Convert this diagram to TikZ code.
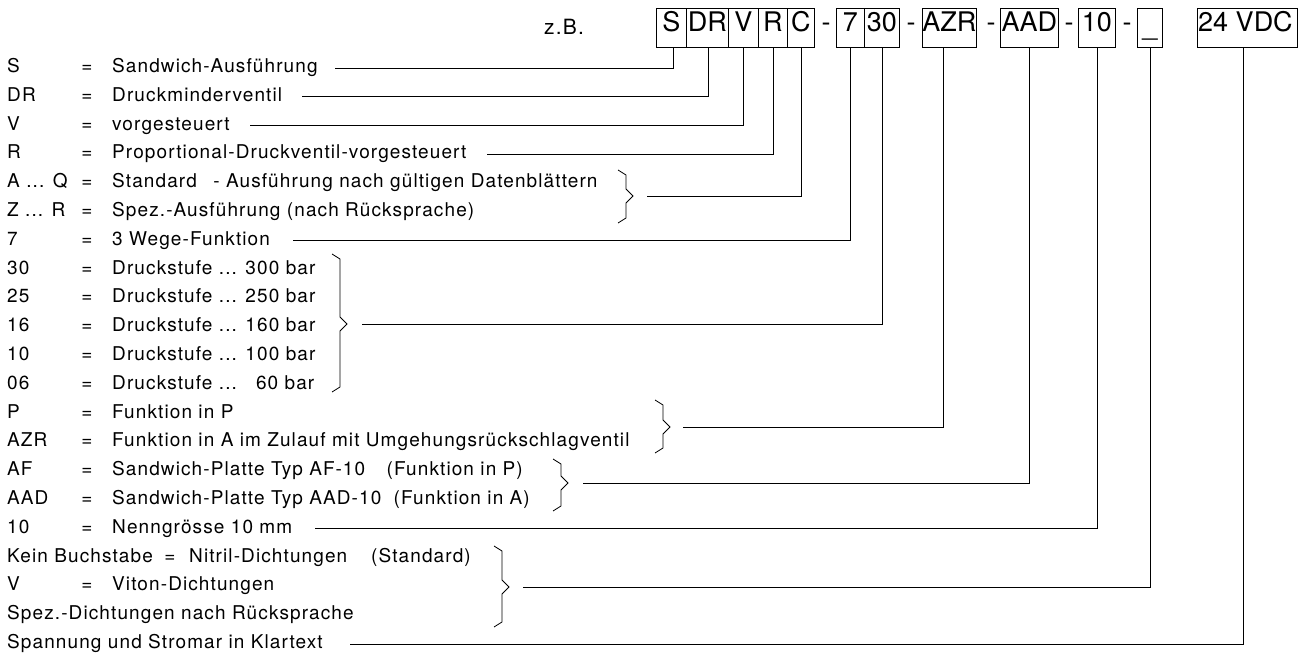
\documentclass[tikz,border=0pt]{standalone}
\usepackage{fontspec}
\setmainfont{TeX Gyre Heros}[LetterSpace=5.8]
\newfontfamily\boxfont{TeX Gyre Heros}
\usetikzlibrary{calc}
\newcommand\mybrace[4]{\draw[brc] (#1,#2) -- (#1+8,#2+5) -- (#1+8,#3-7) -- (#1+15,#3) -- (#1+8,#3+7) -- (#1+8,#4-5) -- (#1,#4);}
\begin{document}
\begin{tikzpicture}[x=1pt,y=-1pt,
  txt/.style={anchor=base west,inner sep=0pt,font=\fontsize{19}{22}\selectfont},
  eq/.style={anchor=base,inner sep=0pt,font=\fontsize{19}{22}\selectfont},
  codebox/.style={draw,line width=0.9pt,minimum height=39pt,inner sep=0pt,anchor=north west},
  btxt/.style={anchor=base,inner sep=0pt,font=\boxfont\fontsize{27}{30}\selectfont},
  ln/.style={line width=0.8pt},
  brc/.style={line width=0.8pt}
]
\useasboundingbox (0,0) rectangle (1298,655);
% ---------- code boxes ----------
\node[anchor=base,inner sep=0pt,font=\fontsize{21}{24}\selectfont] (zb) at (564,35) {z.B.};
\node[codebox,minimum width=30pt] (bS) at (656,8) {};
\node[codebox,minimum width=42pt] (bDR) at (686,8) {};
\node[codebox,minimum width=30pt] (bV) at (728,8) {};
\node[codebox,minimum width=29pt] (bR) at (758,8) {};
\node[codebox,minimum width=27pt] (bC) at (787,8) {};
\node[codebox,minimum width=28pt] (b7) at (836,8) {};
\node[codebox,minimum width=35pt] (b30) at (864,8) {};
\node[codebox,minimum width=54pt] (bAZR) at (922,8) {};
\node[codebox,minimum width=58pt] (bAAD) at (1000,8) {};
\node[codebox,minimum width=37pt] (b10) at (1078,8) {};
\node[codebox,minimum width=25pt] (bU) at (1137,8) {};
\node[codebox,minimum width=100pt] (bVDC) at (1197,8) {};
\node[btxt] (tS) at (bS.center |- 0,32) {S};
\node[btxt] (tDR) at (bDR.center |- 0,32) {DR};
\node[btxt] (tV) at (bV.center |- 0,32) {V};
\node[btxt] (tR) at (bR.center |- 0,32) {R};
\node[btxt] (tC) at (bC.center |- 0,32) {C};
\node[btxt] (t7) at (b7.center |- 0,32) {7};
\node[btxt] (t30) at (b30.center |- 0,32) {30};
\node[btxt] (tAZR) at (bAZR.center |- 0,32) {AZR};
\node[btxt] (tAAD) at (bAAD.center |- 0,32) {AAD};
\node[btxt] (t10) at (b10.center |- 0,32) {10};
\node[btxt] (tU) at (bU.center |- 0,36) {\_};
\node[btxt,anchor=base west] (tVDC) at (1198,32) {24 VDC};
\node[btxt] (m1) at (826,32) {-};
\node[btxt] (m2) at (911,32) {-};
\node[btxt] (m3) at (991,32) {-};
\node[btxt] (m4) at (1069,32) {-};
\node[btxt] (m5) at (1127,32) {-};
% ---------- legend rows ----------
\node[txt] (c0) at (7,72.5) {S};
\node[eq] (q0) at (87,72.5) {=};
\node[txt] (d0) at (112,72.5) {Sandwich-Ausführung};
\node[txt] (c1) at (7,101.3) {DR};
\node[eq] (q1) at (87,101.3) {=};
\node[txt] (d1) at (112,101.3) {Druckminderventil};
\node[txt] (c2) at (7,130.1) {V};
\node[eq] (q2) at (87,130.1) {=};
\node[txt] (d2) at (112,130.1) {vorgesteuert};
\node[txt] (c3) at (7,158.9) {R};
\node[eq] (q3) at (87,158.9) {=};
\node[txt] (d3) at (112,158.9) {Proportional-Druckventil-vorgesteuert};
\node[txt] (c4) at (7,187.7) {A ... Q};
\node[eq] (q4) at (87,187.7) {=};
\node[txt] (d4) at (112,187.7) {Standard\hspace{10pt} - Ausführung nach gültigen Datenblättern};
\node[txt] (c5) at (7,216.5) {Z ... R};
\node[eq] (q5) at (87,216.5) {=};
\node[txt] (d5) at (112,216.5) {Spez.-Ausführung (nach Rücksprache)};
\node[txt] (c6) at (7,245.3) {7};
\node[eq] (q6) at (87,245.3) {=};
\node[txt] (d6) at (112,245.3) {3 Wege-Funktion};
\node[txt] (c7) at (7,274.1) {30};
\node[eq] (q7) at (87,274.1) {=};
\node[txt] (d7) at (112,274.1) {Druckstufe ... 300 bar};
\node[txt] (c8) at (7,302.9) {25};
\node[eq] (q8) at (87,302.9) {=};
\node[txt] (d8) at (112,302.9) {Druckstufe ... 250 bar};
\node[txt] (c9) at (7,331.7) {16};
\node[eq] (q9) at (87,331.7) {=};
\node[txt] (d9) at (112,331.7) {Druckstufe ... 160 bar};
\node[txt] (c10) at (7,360.5) {10};
\node[eq] (q10) at (87,360.5) {=};
\node[txt] (d10) at (112,360.5) {Druckstufe ... 100 bar};
\node[txt] (c11) at (7,389.3) {06};
\node[eq] (q11) at (87,389.3) {=};
\node[txt] (d11) at (112,389.3) {Druckstufe ... \phantom{0}60 bar};
\node[txt] (c12) at (7,418.1) {P};
\node[eq] (q12) at (87,418.1) {=};
\node[txt] (d12) at (112,418.1) {Funktion in P};
\node[txt] (c13) at (7,446.9) {AZR};
\node[eq] (q13) at (87,446.9) {=};
\node[txt] (d13) at (112,446.9) {Funktion in A im Zulauf mit Umgehungsrückschlagventil};
\node[txt] (c14) at (7,475.7) {AF};
\node[eq] (q14) at (87,475.7) {=};
\node[txt] (d14) at (112,475.7) {Sandwich-Platte Typ AF-10};
\node[txt,anchor=base east] (p14) at (523,475.7) {(Funktion in P)};
\node[txt] (c15) at (7,504.5) {AAD};
\node[eq] (q15) at (87,504.5) {=};
\node[txt] (d15) at (112,504.5) {Sandwich-Platte Typ AAD-10};
\node[txt,anchor=base east] (p15) at (530,504.5) {(Funktion in A)};
\node[txt] (c16) at (7,533.3) {10};
\node[eq] (q16) at (87,533.3) {=};
\node[txt] (d16) at (112,533.3) {Nenngrösse 10 mm};
\node[txt] (c17) at (7,562.1) {Kein Buchstabe};
\node[eq] (q17) at (170,562.1) {=};
\node[txt] (d17) at (189,562.1) {Nitril-Dichtungen};
\node[txt,anchor=base east] (p17) at (471,562.1) {(Standard)};
\node[txt] (c18) at (7,590.9) {V};
\node[eq] (q18) at (87,590.9) {=};
\node[txt] (d18) at (112,590.9) {Viton-Dichtungen};
\node[txt] (c19) at (7,619.7) {Spez.-Dichtungen nach Rücksprache};
\node[txt] (c20) at (7,648.5) {Spannung und Stromar in Klartext};
% ---------- braces ----------
\mybrace{618}{170}{196}{223}
\mybrace{332}{254}{324}{392}
\mybrace{655}{400}{427}{453}
\mybrace{553}{459}{483}{511}
\mybrace{494}{546}{587}{627}
% ---------- connector ends ----------
\coordinate (eS) at (335,68);
\coordinate (eDR) at (302,96.8);
\coordinate (eV) at (250,125.6);
\coordinate (eR) at (487,154.4);
\coordinate (eC) at (647,196);
\coordinate (e7) at (293,240.8);
\coordinate (e30) at (362,324);
\coordinate (eAZR) at (683,427);
\coordinate (eAAD) at (583,483);
\coordinate (e10) at (315,528.8);
\coordinate (eU) at (523,587);
\coordinate (eVDC) at (350,644);
% ---------- connectors ----------
\draw[ln] ([xshift=2pt]bS.south) |- (eS);
\draw[ln] ([xshift=1pt]bDR.south) |- (eDR);
\draw[ln] (bV.south) |- (eV);
\draw[ln] (bR.south) |- (eR);
\draw[ln] (bC.south) |- (eC);
\draw[ln] (b7.south) |- (e7);
\draw[ln] (b30.south) |- (e30);
\draw[ln] ([xshift=-6pt]bAZR.south) |- (eAZR);
\draw[ln] (bAAD.south) |- (eAAD);
\draw[ln] (b10.south) |- (e10);
\draw[ln] (bU.south) |- (eU);
\draw[ln] ([xshift=-4pt]bVDC.south) |- (eVDC);
\end{tikzpicture}
\end{document}
